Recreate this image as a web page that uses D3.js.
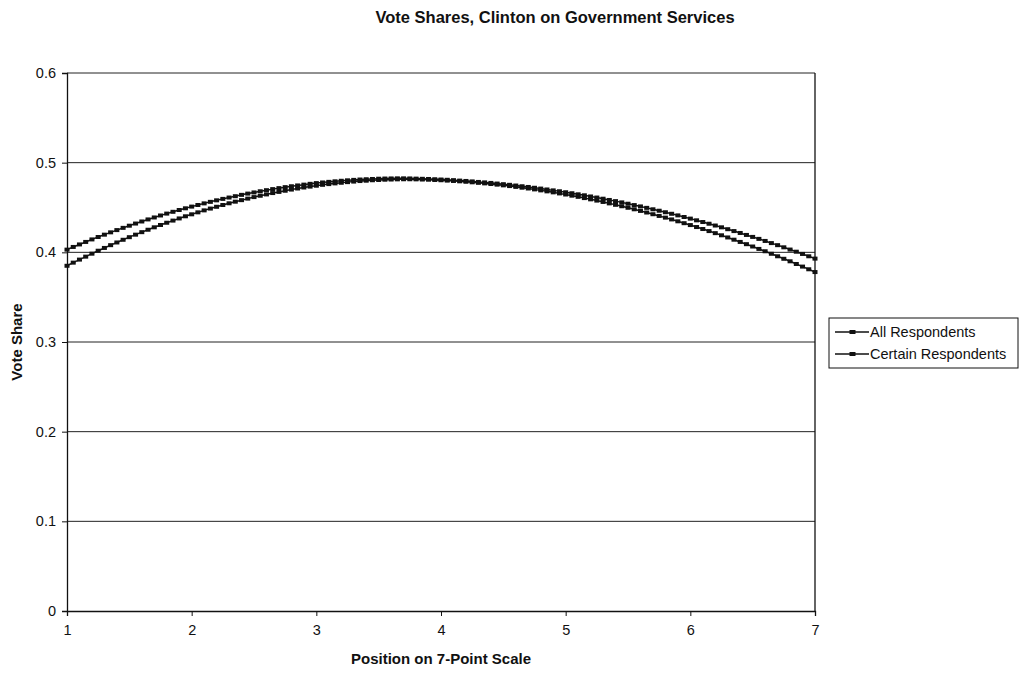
<!DOCTYPE html>
<html>
<head>
<meta charset="utf-8">
<script src="https://cdn.jsdelivr.net/npm/d3@7"></script>
<style>
  html, body { margin: 0; padding: 0; background: #fff; }
  svg { display: block; font-family: "Liberation Sans", Arial, sans-serif; }
</style>
</head>
<body>
<svg id="chart" width="1024" height="673"></svg>
<script>
// Positions on the 7-point scale, sampled every 0.05 from 1 to 7
const positions = d3.range(121).map(i => +(1 + i * 0.05).toFixed(2));

// Predicted vote share, all respondents
const allRespondents = [
  0.3850, 0.3885, 0.3919, 0.3952, 0.3985, 0.4018, 0.4049, 0.4080, 0.4110, 0.4140,
  0.4169, 0.4197, 0.4225, 0.4252, 0.4279, 0.4305, 0.4330, 0.4354, 0.4378, 0.4402,
  0.4424, 0.4446, 0.4468, 0.4488, 0.4508, 0.4528, 0.4547, 0.4565, 0.4582, 0.4599,
  0.4616, 0.4631, 0.4646, 0.4661, 0.4674, 0.4687, 0.4700, 0.4712, 0.4723, 0.4733,
  0.4743, 0.4753, 0.4761, 0.4769, 0.4776, 0.4783, 0.4789, 0.4795, 0.4799, 0.4804,
  0.4807, 0.4810, 0.4812, 0.4814, 0.4815, 0.4815,
  0.4814, 0.4812, 0.4810, 0.4807, 0.4804, 0.4800, 0.4796, 0.4792, 0.4787, 0.4781,
  0.4775, 0.4769, 0.4762, 0.4755, 0.4747, 0.4739, 0.4730, 0.4721, 0.4712, 0.4702,
  0.4691, 0.4680, 0.4669, 0.4657, 0.4645, 0.4632, 0.4619, 0.4605, 0.4591, 0.4577,
  0.4562, 0.4546, 0.4530, 0.4514, 0.4497, 0.4480, 0.4462, 0.4444, 0.4425, 0.4406,
  0.4387, 0.4367, 0.4346, 0.4325, 0.4304, 0.4282, 0.4260, 0.4237, 0.4214, 0.4190,
  0.4166, 0.4141, 0.4116, 0.4091, 0.4065, 0.4038, 0.4012, 0.3984, 0.3956, 0.3928,
  0.3900, 0.3870, 0.3841, 0.3811, 0.3780
];

// Predicted vote share, certain respondents
const certainRespondents = [
  0.4030, 0.4060, 0.4088, 0.4116, 0.4144, 0.4171, 0.4197, 0.4223, 0.4248, 0.4273,
  0.4297, 0.4321, 0.4344, 0.4367, 0.4389, 0.4411, 0.4432, 0.4452, 0.4472, 0.4491,
  0.4510, 0.4528, 0.4546, 0.4563, 0.4580, 0.4596, 0.4611, 0.4626, 0.4641, 0.4655,
  0.4668, 0.4681, 0.4693, 0.4705, 0.4716, 0.4727, 0.4737, 0.4746, 0.4755, 0.4764,
  0.4772, 0.4779, 0.4786, 0.4792, 0.4798, 0.4803, 0.4808, 0.4812, 0.4815, 0.4818,
  0.4821, 0.4823, 0.4824, 0.4825, 0.4825,
  0.4824, 0.4822, 0.4820, 0.4818, 0.4815, 0.4812, 0.4809, 0.4805, 0.4800, 0.4796,
  0.4791, 0.4785, 0.4780, 0.4774, 0.4767, 0.4760, 0.4753, 0.4745, 0.4737, 0.4729,
  0.4720, 0.4711, 0.4701, 0.4691, 0.4681, 0.4670, 0.4659, 0.4647, 0.4636, 0.4623,
  0.4611, 0.4598, 0.4584, 0.4571, 0.4557, 0.4542, 0.4527, 0.4512, 0.4496, 0.4480,
  0.4464, 0.4447, 0.4430, 0.4412, 0.4394, 0.4376, 0.4357, 0.4338, 0.4319, 0.4299,
  0.4279, 0.4258, 0.4237, 0.4216, 0.4194, 0.4172, 0.4150, 0.4127, 0.4103, 0.4080,
  0.4056, 0.4031, 0.4007, 0.3982, 0.3956, 0.3930
];

const seriesNames = ["All Respondents", "Certain Respondents"];
const xTicks = [1, 2, 3, 4, 5, 6, 7];
const yTicks = [0, 0.1, 0.2, 0.3, 0.4, 0.5, 0.6];

const titleText = "Vote Shares, Clinton on Government Services";
const xTitle = "Position on 7-Point Scale";
const yTitle = "Vote Share";

const svg = d3.select("#chart");
const plot = { left: 67, right: 815, top: 73, bottom: 611 };

const x = d3.scaleLinear().domain([1, 7]).range([plot.left, plot.right]);
const y = d3.scaleLinear().domain([0, 0.6]).range([plot.bottom, plot.top]);

const ink = "#111";
const font = "\"Liberation Sans\", Arial, sans-serif";

// Title
svg.append("text")
  .attr("x", 555).attr("y", 23)
  .attr("text-anchor", "middle")
  .attr("font-size", 16.5).attr("font-weight", "bold")
  .attr("fill", ink)
  .text(titleText);

// Horizontal gridlines
svg.append("g")
  .selectAll("line")
  .data(yTicks.filter(v => v > 0))
  .join("line")
  .attr("x1", plot.left).attr("x2", plot.right)
  .attr("y1", d => y(d)).attr("y2", d => y(d))
  .attr("stroke", "#222").attr("stroke-width", 1);

// Right border of plot area
svg.append("line")
  .attr("x1", plot.right).attr("x2", plot.right)
  .attr("y1", plot.top).attr("y2", plot.bottom)
  .attr("stroke", ink).attr("stroke-width", 1.3);

// Axes
const yAxis = d3.axisLeft(y).tickValues(yTicks).tickFormat(d => d === 0 ? "0" : d3.format(".1f")(d))
  .tickSize(5).tickPadding(6);
const gy = svg.append("g").attr("transform", `translate(${plot.left},0)`).call(yAxis);

const xAxis = d3.axisBottom(x).tickValues(xTicks).tickFormat(d3.format("d"))
  .tickSize(5).tickPadding(9);
const gx = svg.append("g").attr("transform", `translate(0,${plot.bottom})`).call(xAxis);

[gx, gy].forEach(g => {
  g.select(".domain").attr("stroke", ink).attr("stroke-width", 1.3);
  g.selectAll(".tick line").attr("stroke", ink).attr("stroke-width", 1);
  g.selectAll(".tick text").attr("fill", ink).attr("font-size", 14.5)
    .attr("font-family", font);
});

// Axis titles
svg.append("text")
  .attr("x", 441).attr("y", 664)
  .attr("text-anchor", "middle")
  .attr("font-size", 15).attr("font-weight", "bold")
  .attr("fill", ink)
  .text(xTitle);

svg.append("text")
  .attr("transform", `translate(22,${(plot.top + plot.bottom) / 2}) rotate(-90)`)
  .attr("text-anchor", "middle")
  .attr("font-size", 15).attr("font-weight", "bold")
  .attr("fill", ink)
  .text(yTitle);

// Series
const seriesData = [allRespondents, certainRespondents].map((vals, k) => ({
  name: seriesNames[k],
  points: vals.map((v, i) => ({ x: positions[i], y: v }))
}));

const line = d3.line().x(d => x(d.x)).y(d => y(d.y));
const mw = 5, mh = 4;

const gSeries = svg.append("g")
  .selectAll("g")
  .data(seriesData)
  .join("g");

gSeries.append("path")
  .attr("d", d => line(d.points))
  .attr("fill", "none")
  .attr("stroke", ink)
  .attr("stroke-width", 1.5);

gSeries.selectAll("rect")
  .data(d => d.points)
  .join("rect")
  .attr("x", d => x(d.x) - mw / 2)
  .attr("y", d => y(d.y) - mh / 2)
  .attr("width", mw).attr("height", mh)
  .attr("fill", ink);

// Legend
const legend = svg.append("g").attr("transform", "translate(829,318)");
legend.append("rect")
  .attr("width", 189).attr("height", 50)
  .attr("fill", "#fff").attr("stroke", ink).attr("stroke-width", 1);

const items = legend.selectAll("g.item")
  .data(seriesNames)
  .join("g")
  .attr("class", "item")
  .attr("transform", (d, i) => `translate(0,${14 + i * 22})`);

items.append("line")
  .attr("x1", 6).attr("x2", 40).attr("y1", 0).attr("y2", 0)
  .attr("stroke", ink).attr("stroke-width", 1.3);
items.append("rect")
  .attr("x", 23 - mw / 2).attr("y", -mh / 2)
  .attr("width", mw + 1).attr("height", mh)
  .attr("fill", ink);
items.append("text")
  .attr("x", 41).attr("y", 0).attr("dy", "0.35em")
  .attr("font-size", 14.5).attr("fill", ink)
  .text(d => d);
</script>
</body>
</html>
